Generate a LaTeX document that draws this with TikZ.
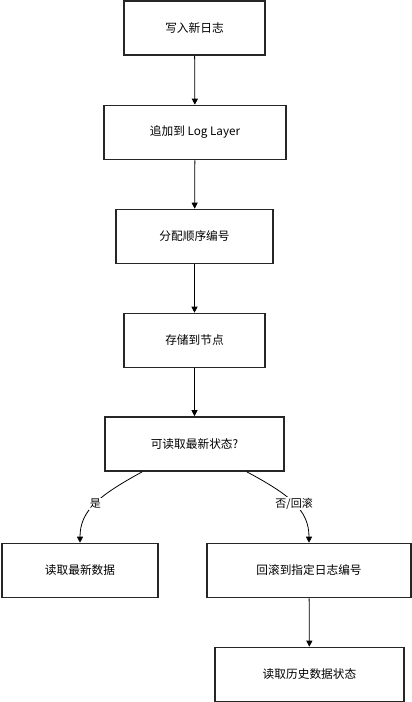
\documentclass[tikz,border=0pt]{standalone}
\usepackage{fontspec}
\setmainfont{Noto Sans CJK SC}
\usepackage{tikz}
\usetikzlibrary{arrows.meta}

\begin{document}
\begin{tikzpicture}[>=Triangle, x=1pt, y=-1pt,
    box/.style={draw=black!85, line width=1.6pt, minimum height=54pt, font=\fontsize{11.7}{13}\selectfont},
    flow/.style={->, line width=0.8pt, >={Triangle[length=6pt,width=6pt]}},
    lbl/.style={fill=white, inner sep=1pt, font=\fontsize{11}{13}\selectfont}]

\useasboundingbox (0,0) rectangle (412,702);

% Caixes
\node[box, minimum width=141pt] (write) at (194.5,28) {写入新日志};
\node[box, minimum width=182pt] (append) at (195,132.5) {追加到 Log Layer};
\node[box, minimum width=157pt] (assign) at (194.5,236.5) {分配顺序编号};
\node[box, minimum width=141pt] (store) at (194.5,340.5) {存储到节点};
\node[box, minimum width=179pt] (decide) at (194.5,444) {可读取最新状态?};
\node[box, minimum width=156pt] (latest) at (80,570.5) {读取最新数据};
\node[box, minimum width=204pt] (rollback) at (309,570.5) {回滚到指定日志编号};
\node[box, minimum width=189pt] (history) at (309.5,674.5) {读取历史数据状态};

% Fletxes
\draw[flow] (write) -- (append);
\draw[flow] (append) -- (assign);
\draw[flow] (assign) -- (store);
\draw[flow] (store) -- (decide);
\draw[flow] ([xshift=38pt]decide.south west) .. controls (100,495) and (80,510) .. node[lbl] {是} (latest.north);
\draw[flow] ([xshift=-38pt]decide.south east) .. controls (290,495) and (309,510) .. node[lbl] {否/回滚} (rollback.north);
\draw[flow] (rollback) -- (history);

\end{tikzpicture}
\end{document}
